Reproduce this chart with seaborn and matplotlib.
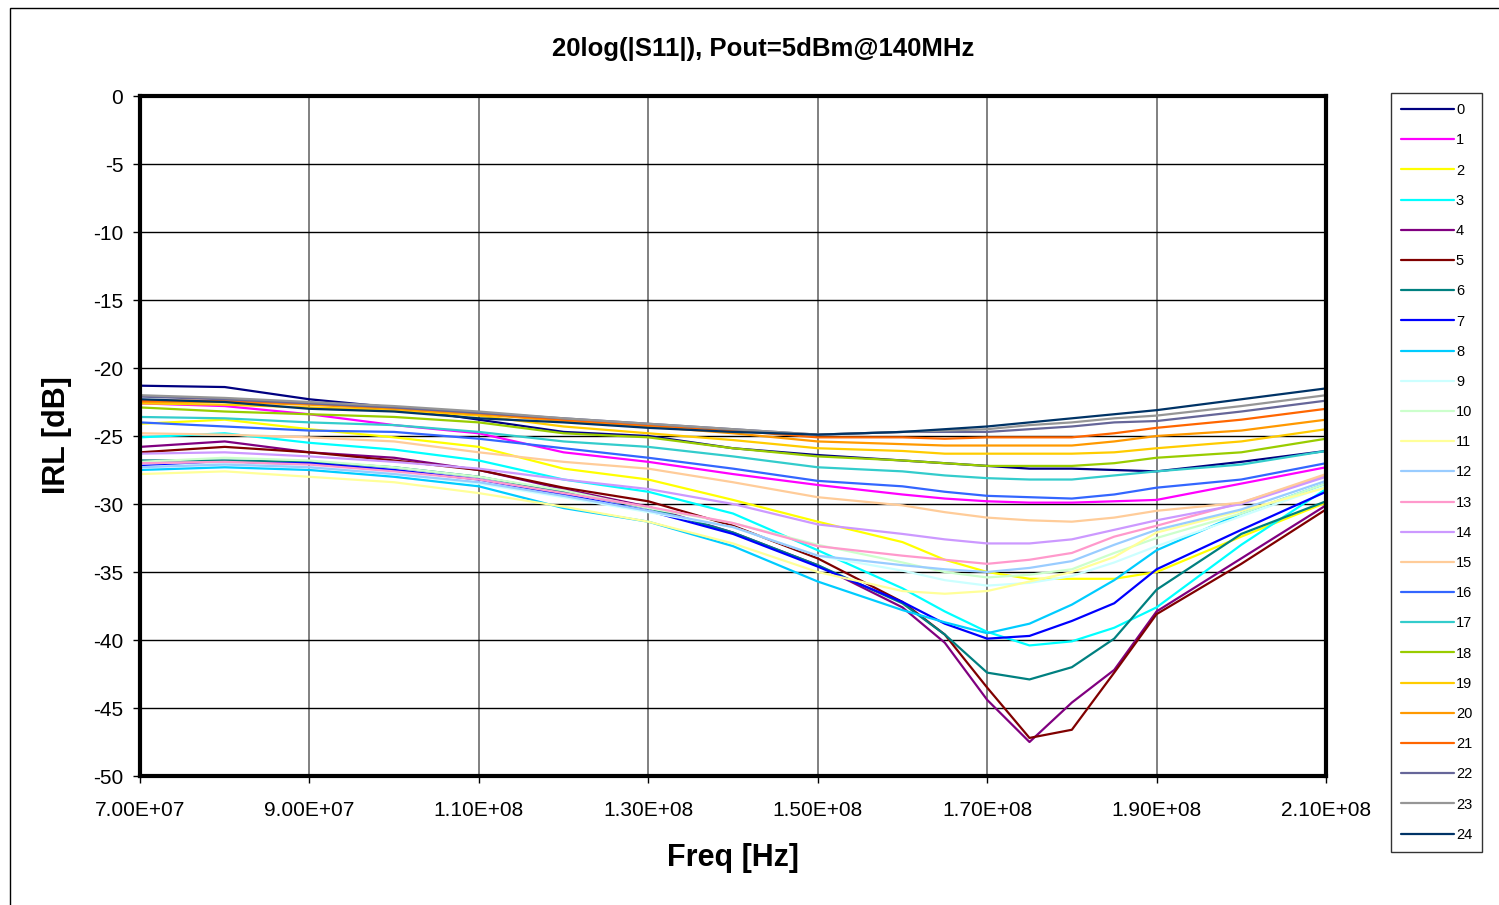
import numpy as np
import pandas as pd
import matplotlib
matplotlib.use("Agg")
import matplotlib.pyplot as plt
import seaborn as sns
from matplotlib.ticker import FuncFormatter
from matplotlib.patches import Rectangle

# Frequency points (x 1e7 Hz)
freq_e7 = [7, 8, 9, 10, 11, 12, 13, 14, 15, 16, 16.5, 17, 17.5, 18, 18.5, 19, 20, 21]

s0 = [-21.3, -21.4, -22.3, -22.9, -23.8, -24.7, -25.0, -25.9, -26.4, -26.8, -27.0, -27.2, -27.4, -27.4, -27.5, -27.6, -26.9, -26.1]
s1 = [-22.6, -22.8, -23.4, -24.2, -24.8, -26.2, -26.9, -27.8, -28.6, -29.3, -29.6, -29.8, -29.9, -29.9, -29.8, -29.7, -28.5, -27.3]
s2 = [-24.1, -23.8, -24.5, -25.1, -25.8, -27.4, -28.2, -29.7, -31.3, -32.8, -34.1, -35.0, -35.5, -35.5, -35.5, -35.0, -32.4, -29.9]
s3 = [-25.1, -24.8, -25.5, -26.0, -26.8, -28.2, -29.1, -30.7, -33.4, -36.2, -37.9, -39.4, -40.4, -40.1, -39.1, -37.6, -33.0, -28.9]
s4 = [-25.8, -25.4, -26.2, -26.6, -27.5, -28.9, -30.2, -32.1, -34.5, -37.6, -40.2, -44.4, -47.5, -44.6, -42.2, -37.9, -34.0, -30.1]
s5 = [-26.2, -25.8, -26.2, -26.8, -27.5, -28.8, -29.8, -31.6, -34.0, -37.2, -39.6, -43.5, -47.2, -46.6, -42.4, -38.1, -34.4, -30.4]
s6 = [-26.8, -26.8, -26.9, -27.3, -28.0, -29.1, -30.3, -32.1, -34.5, -37.3, -39.6, -42.4, -42.9, -42.0, -39.9, -36.3, -32.2, -29.8]
s7 = [-27.2, -27.0, -27.0, -27.5, -28.2, -29.3, -30.5, -32.2, -34.6, -37.2, -38.8, -39.9, -39.7, -38.6, -37.3, -34.8, -31.9, -29.1]
s8 = [-27.5, -27.3, -27.5, -28.0, -28.7, -30.3, -31.3, -33.1, -35.7, -37.8, -38.7, -39.5, -38.8, -37.4, -35.6, -33.4, -30.7, -28.5]
s9 = [-27.3, -27.0, -27.3, -27.8, -28.5, -29.5, -30.6, -31.7, -33.8, -34.9, -35.6, -36.0, -35.8, -35.3, -34.3, -33.1, -30.9, -28.7]
s10 = [-26.9, -26.6, -26.8, -27.3, -28.0, -29.0, -30.3, -31.4, -33.0, -34.3, -35.0, -35.4, -35.2, -34.8, -33.6, -32.5, -30.7, -28.5]
s11 = [-27.8, -27.6, -28.0, -28.4, -29.2, -30.2, -31.3, -32.9, -35.0, -36.4, -36.6, -36.4, -35.7, -35.0, -33.9, -32.1, -30.5, -28.8]
s12 = [-27.3, -27.1, -27.3, -27.8, -28.4, -29.4, -30.5, -31.7, -33.8, -34.5, -34.8, -35.0, -34.7, -34.2, -33.0, -31.9, -30.4, -28.3]
s13 = [-27.0, -26.9, -27.1, -27.6, -28.2, -29.2, -30.2, -31.4, -33.1, -33.8, -34.1, -34.4, -34.1, -33.6, -32.4, -31.6, -29.9, -27.9]
s14 = [-26.3, -26.2, -26.5, -26.9, -27.4, -28.2, -28.9, -30.0, -31.5, -32.2, -32.6, -32.9, -32.9, -32.6, -31.9, -31.2, -30.0, -28.0]
s15 = [-24.8, -24.9, -25.1, -25.4, -26.2, -26.9, -27.4, -28.4, -29.5, -30.1, -30.6, -31.0, -31.2, -31.3, -31.0, -30.5, -29.9, -27.8]
s16 = [-24.0, -24.3, -24.6, -24.7, -25.2, -25.9, -26.6, -27.4, -28.3, -28.7, -29.1, -29.4, -29.5, -29.6, -29.3, -28.8, -28.2, -27.0]
s17 = [-23.6, -23.7, -24.0, -24.2, -24.7, -25.4, -25.8, -26.5, -27.3, -27.6, -27.9, -28.1, -28.2, -28.2, -27.9, -27.6, -27.1, -26.1]
s18 = [-22.9, -23.2, -23.4, -23.6, -24.0, -24.8, -25.1, -25.9, -26.5, -26.8, -27.0, -27.2, -27.2, -27.2, -27.0, -26.6, -26.2, -25.2]
s19 = [-22.6, -22.7, -22.9, -23.1, -23.5, -24.3, -24.8, -25.3, -25.9, -26.1, -26.3, -26.3, -26.3, -26.3, -26.2, -25.9, -25.4, -24.5]
s20 = [-22.5, -22.5, -22.7, -23.0, -23.4, -23.9, -24.3, -24.8, -25.4, -25.6, -25.7, -25.7, -25.7, -25.7, -25.4, -25.0, -24.6, -23.8]
s21 = [-22.4, -22.4, -22.6, -22.9, -23.3, -23.8, -24.2, -24.6, -25.1, -25.1, -25.2, -25.1, -25.1, -25.1, -24.8, -24.4, -23.8, -23.0]
s22 = [-22.1, -22.3, -22.6, -22.9, -23.3, -23.7, -24.1, -24.5, -24.9, -24.7, -24.7, -24.7, -24.5, -24.3, -24.0, -23.9, -23.2, -22.4]
s23 = [-22.0, -22.2, -22.5, -22.8, -23.2, -23.7, -24.1, -24.5, -24.9, -24.7, -24.6, -24.5, -24.2, -24.0, -23.7, -23.5, -22.8, -22.0]
s24 = [-22.3, -22.5, -23.0, -23.2, -23.7, -24.0, -24.4, -24.7, -24.9, -24.7, -24.5, -24.3, -24.0, -23.7, -23.4, -23.1, -22.3, -21.5]

series_values = [s0, s1, s2, s3, s4, s5, s6, s7, s8, s9, s10, s11, s12,
                 s13, s14, s15, s16, s17, s18, s19, s20, s21, s22, s23, s24]
series_labels = [str(i) for i in range(25)]
colors = ["#000080", "#FF00FF", "#FFFF00", "#00FFFF", "#800080", "#800000",
          "#008080", "#0000FF", "#00CCFF", "#CCFFFF", "#CCFFCC", "#FFFF99",
          "#99CCFF", "#FF99CC", "#CC99FF", "#FFCC99", "#3366FF", "#33CCCC",
          "#99CC00", "#FFCC00", "#FF9900", "#FF6600", "#666699", "#969696",
          "#003366"]

xtick_e7 = [7, 9, 11, 13, 15, 17, 19, 21]
ytick_vals = [0, -5, -10, -15, -20, -25, -30, -35, -40, -45, -50]

title = "20log(|S11|), Pout=5dBm@140MHz"
xlabel = "Freq [Hz]"
ylabel = "IRL [dB]"

rows = []
for lab, vals in zip(series_labels, series_values):
    for f, v in zip(freq_e7, vals):
        rows.append((f * 1e7, v, lab))
df = pd.DataFrame(rows, columns=["freq", "irl", "series"])

sns.set_style("white")
plt.rcParams["font.family"] = ["Liberation Sans", "DejaVu Sans"]
plt.rcParams["axes.unicode_minus"] = False
plt.rcParams["text.color"] = "black"
plt.rcParams["xtick.color"] = "black"
plt.rcParams["ytick.color"] = "black"
plt.rcParams["axes.labelcolor"] = "black"

W, H = 1499, 905
fig = plt.figure(figsize=(W / 100, H / 100), dpi=100)
ax = fig.add_axes([140 / W, 1 - 776 / H, 1186 / W, 680 / H])

sns.lineplot(data=df, x="freq", y="irl", hue="series", hue_order=series_labels,
             palette=colors, linewidth=1.6, estimator=None, errorbar=None,
             sort=False, ax=ax, legend=True)

ax.set_xlim(7e7, 2.1e8)
ax.set_ylim(-50, 0)
ax.set_xticks([v * 1e7 for v in xtick_e7])
ax.set_yticks(ytick_vals)
ax.xaxis.set_major_formatter(FuncFormatter(lambda v, p: f"{v:.2E}"))
ax.yaxis.set_major_formatter(FuncFormatter(lambda v, p: f"{v:.0f}"))
ax.tick_params(axis="both", which="major", labelsize=15, length=5, width=1,
               direction="out", colors="black", bottom=True, left=True)
ax.tick_params(axis="x", pad=13)
ax.tick_params(axis="y", pad=7)
ax.set_xlabel("")
ax.set_ylabel("")
ax.set_axisbelow(True)
ax.yaxis.grid(True, color="black", linewidth=1)
ax.xaxis.grid(True, color="#808080", linewidth=1.4)
for sp in ax.spines.values():
    sp.set_visible(True)
    sp.set_color("black")
    sp.set_linewidth(3)

handles, labels = ax.get_legend_handles_labels()
if ax.get_legend() is not None:
    ax.get_legend().remove()
leg = fig.legend(handles, labels, loc="upper left",
                 bbox_to_anchor=(1391 / W, 1 - 93 / H),
                 bbox_transform=fig.transFigure,
                 frameon=True, fancybox=False, shadow=False,
                 prop={"family": ["Liberation Sans Narrow", "Liberation Sans"], "size": 10.5},
                 handlelength=3.6, handletextpad=0.15, labelspacing=1.11,
                 borderpad=0.7, borderaxespad=0)
leg.get_frame().set_edgecolor("black")
leg.get_frame().set_linewidth(1)
for ln in leg.get_lines():
    ln.set_linewidth(1.6)
for t in leg.get_texts():
    t.set_color("black")

fig.text(763 / W, 1 - 49 / H, title, ha="center", va="center",
         fontsize=18.5, fontweight="bold", color="black")
fig.text(733 / W, 1 - 858 / H, xlabel, ha="center", va="center",
         fontsize=22, fontweight="bold", color="black")
fig.text(57 / W, 1 - 435 / H, ylabel, ha="center", va="center",
         fontsize=22, fontweight="bold", rotation=90, color="black")

fig.patches.append(Rectangle((10 / W, -0.1), 2, 1 - 8 / H + 0.1,
                             transform=fig.transFigure, fill=False,
                             edgecolor="black", linewidth=1))

fig.savefig("out.png", dpi=100)
